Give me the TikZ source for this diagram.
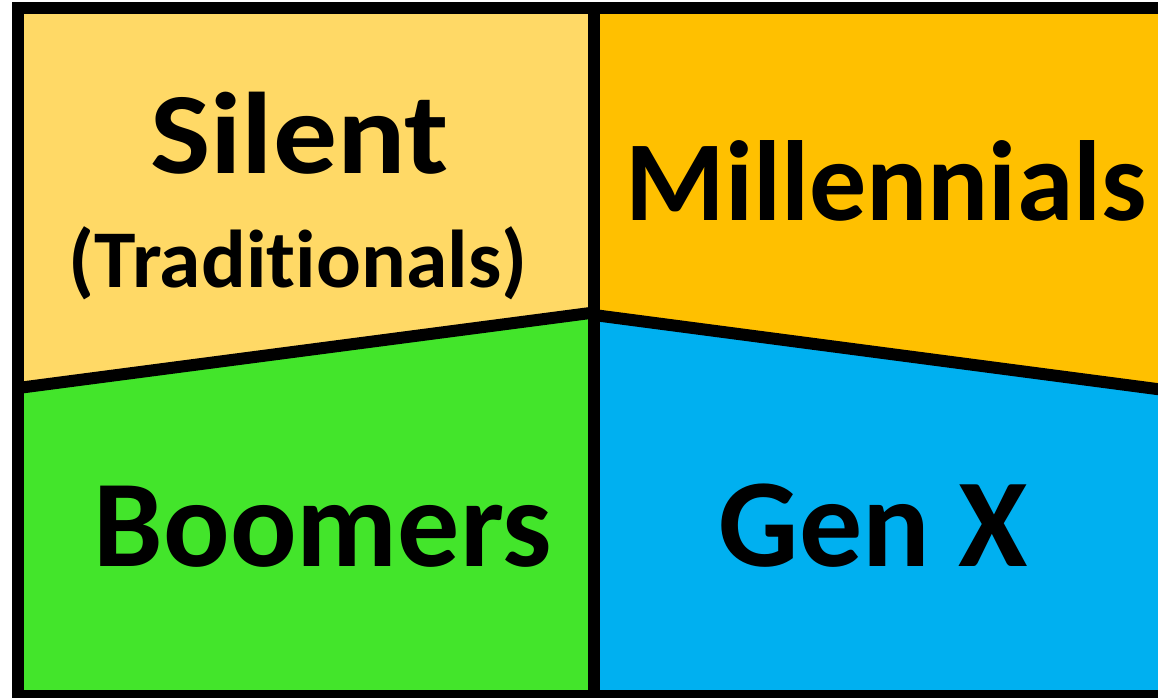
\documentclass[tikz,border=0pt]{standalone}
\usepackage{fontspec}
\setmainfont[Ligatures={NoCommon}]{Carlito}
\definecolor{silentc}{HTML}{FFD966}
\definecolor{millc}{HTML}{FFC000}
\definecolor{boomc}{HTML}{43E52B}
\definecolor{genxc}{HTML}{00B0F0}
\tikzset{
  divider/.style={line width=12pt, draw=black, line cap=butt},
  label/.style={anchor=base, inner sep=0pt, font=\bfseries},
}
\begin{document}
\begin{tikzpicture}[x=1pt,y=-1pt]
\useasboundingbox (0,0) rectangle (1158,697);
\fill[white] (0,0) rectangle (1158,697);
\coordinate (tl) at (18,8);
\coordinate (tm) at (594,8);
\coordinate (tr) at (1172,8);
\coordinate (ml) at (18,388);
\coordinate (mcl) at (594,312.5);
\coordinate (mcr) at (594,315);
\coordinate (mr) at (1172,391);
\coordinate (bl) at (18,696);
\coordinate (bm) at (594,696);
\coordinate (br) at (1172,696);
\fill[silentc] (tl) -- (tm) -- (mcl) -- (ml) -- cycle;
\fill[millc] (tm) -- (tr) -- (mr) -- (mcr) -- cycle;
\fill[boomc] (ml) -- (mcl) -- (bm) -- (bl) -- cycle;
\fill[genxc] (mcr) -- (mr) -- (br) -- (bm) -- cycle;
\draw[divider] (ml) -- (mcl);
\draw[divider] (mcr) -- (mr);
\draw[divider] (tm) -- (bm);
\draw[divider, line join=miter] (tr) -- (tl) -- (bl) -- (br) -- cycle;
\node[label, xscale=1.1, font=\bfseries\fontsize{116}{116}\selectfont] (silent) at (299.5,173) {Silent};
\node[label, xscale=1.02, font=\bfseries\fontsize{82}{82}\selectfont] (trad) at (298,287) {(Tradit\kern0pt ionals)};
\node[label, font=\bfseries\fontsize{114}{114}\selectfont] (mill) at (886,220) {Millennials};
\node[label, font=\bfseries\fontsize{124}{124}\selectfont] (boom) at (323,566) {Boomers};
\node[label, font=\bfseries\fontsize{126}{126}\selectfont] (genx) at (873.5,566) {Gen X};
\end{tikzpicture}
\end{document}
